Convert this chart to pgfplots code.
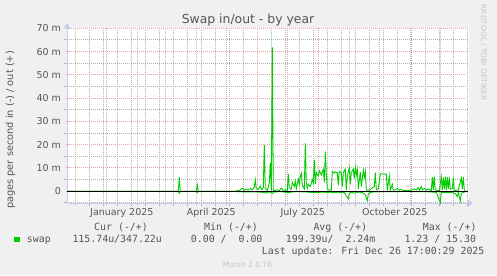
\documentclass[border=0pt]{standalone}
\usepackage{pgfplots}
\pgfplotsset{compat=1.18}
\usepackage{fontspec}
\setmainfont{DejaVu Sans}
\newfontfamily\mono{DejaVu Sans Mono}
\usetikzlibrary{arrows.meta}
\definecolor{bg}{HTML}{F0F0F0}
\definecolor{txtc}{HTML}{555555}
\definecolor{majgrid}{HTML}{E8A8A8}
\definecolor{mingrid}{HTML}{B2B2B2}
\definecolor{axisc}{HTML}{C8CCF0}
\definecolor{swapg}{HTML}{00CC00}
\definecolor{faint}{HTML}{C4C4C4}

\pgfplotstableread{
day val
-39.3 0
72 0
73 6.0
74 0
90 0
91 2.7
92 0
130 0
131 0.4
133 0.2
135 1.0
137 1.3
138 0.4
140 0.8
142 0.5
144 1.2
146 0.6
148 1.8
149 4.9
150 1.0
152 0.8
154 2.2
155 0.6
157 1.5
158 19.9
159 1.2
161 0.4
163 3.5
164 12.3
165 0.5
166 61.8
167 0.4
169 0.3
171 0.6
173 0.2
175 1.4
177 0.3
179 0.6
181 0.4
182 7.4
183 1.5
185 0.8
186 3.8
188 2.0
189 4.3
190 1.0
192 5.2
193 3.0
194 6.3
195 7.7
196 2.5
198 1.0
199 20.6
200 3.5
201 1.2
202 3.0
204 2.0
206 5.0
207 3.5
208 13.4
209 3.0
210 8.0
212 6.5
213 8.8
215 7.0
217 9.5
218 4.0
219 17.0
220 7.5
221 1.0
223 0.5
225 0.4
226 8.5
228 7.8
229 8.3
231 8.0
232 2.5
233 8.5
235 8.0
236 2.0
237 8.0
239 9.5
240 0.5
241 6.5
243 10.2
244 3.0
245 8.0
247 9.5
248 5.5
249 10.3
250 7.0
251 9.5
252 1.0
254 8.2
255 2.0
257 9.0
258 6.0
259 8.5
260 0.5
262 0.4
264 0.6
266 1.5
268 2.0
269 8.0
270 0.6
272 1.0
274 7.5
276 7.4
278 7.4
280 7.3
281 0.3
283 6.6
284 0.4
286 3.0
287 0.4
289 0.6
291 1.2
293 0.4
295 0.8
297 0.3
300 0.2
303 0.3
306 0.6
308 1.0
310 0.5
312 1.5
313 0.4
315 2.0
316 0.6
318 1.2
320 0.5
322 1.0
324 0.5
325 0.3
326 6.0
327 0.5
328 6.3
329 0.5
331 0.3
333 0.2
335 6.2
336 0.6
337 5.8
338 1.0
339 6.2
340 0.5
341 6.0
342 1.0
343 5.9
344 0.8
346 1.2
347 5.8
348 0.4
350 0.3
352 0.5
355 5.7
356 1.0
357 6.0
358 0.5
359 0.3
}\swapout

\pgfplotstableread{
day val
-39.3 0
72 0
73 -0.9
74 0
90 0
91 -0.7
92 0
130 0
131 -0.2
140 -0.3
150 -0.3
157 -0.5
160 -0.8
163 -0.2
166 -1.0
168 -0.3
175 -0.2
182 -0.6
186 -0.3
192 -0.2
198 -0.3
205 -0.5
212 -0.5
218 -0.4
222 -0.6
224 -0.3
226 -0.7
232 -0.4
236 -0.7
238 -0.5
242 -3.4
243 -1.0
245 -0.5
248 -0.8
252 -0.4
256 -0.6
259 -1.5
261 -4.0
262 -1.0
265 -0.4
270 -0.3
275 -0.2
280 -0.2
290 -0.2
300 -0.1
310 -0.2
320 -0.2
330 -0.5
334 -4.9
335 -0.5
345 -0.5
349 -1.0
351 -2.3
352 -0.5
354 -4.3
355 -1.0
357 -0.5
359 -0.3
}\swapin

\pgfplotsset{
  common/.style={
    at={(67bp,71.7bp)}, anchor=south west,
    scale only axis, width=401bp, height=175bp,
    xmin=-39.3, xmax=361.7, ymin=-5.2, ymax=70,
    tick align=outside, major tick length=3bp,
    xtick pos=bottom, ytick pos=left,
  }
}

\begin{document}
\begin{tikzpicture}[x=1bp,y=1bp]
\useasboundingbox (0,0) rectangle (497,275);
\fill[bg] (0,0) rectangle (497,275);
\fill[white] (67,71.7) rectangle (468,246.7);
% underlay: minor grid
\begin{axis}[common,
  hide axis=false,
  axis line style={draw=white, line width=0.1bp},
  grid=major,
  major grid style={color=mingrid, dash pattern=on 1bp off 1bp, line width=0.9bp},
  major tick style={color=mingrid, line width=0.9bp},
  xtick={-17,-3,11,25,39,53,67,81,95,109,123,137,151,165,179,193,207,221,235,249,263,277,291,305,319,333,347,361},
  ytick={-5,5,15,25,35,45,55,65},
  xticklabels={}, yticklabels={},
]
\end{axis}
% main axis
\begin{axis}[common,
  axis lines=left,
  axis line style={draw=axisc, line width=0.8bp, shorten >=-5bp, -{Triangle[length=5bp,width=7bp]}},
  grid=major,
  major grid style={color=majgrid, dash pattern=on 1bp off 1bp, line width=0.9bp},
  major tick style={color=majgrid, line width=0.9bp},
  xtick={-31,0,31,59,90,120,151,181,212,243,273,304,334},
  xticklabels={},
  extra x ticks={15.5,105,196.5,288.5},
  extra x tick labels={January 2025,April 2025,July 2025,October 2025},
  extra x tick style={grid=none, major tick length=0pt},
  ytick={0,10,20,30,40,50,60,70},
  yticklabels={0,10 m,20 m,30 m,40 m,50 m,60 m,70 m},
  tick label style={font=\fontsize{9.5bp}{11bp}\selectfont, text=txtc},
  xticklabel style={yshift=-1.5bp},
  yticklabel style={xshift=-1bp},
]
\addplot[swapg, line width=0.9bp] table[x=day,y=val] {\swapin};
\addplot[swapg, line width=0.9bp] table[x=day,y=val] {\swapout};
\addplot[black, line width=1.1bp] coordinates {(-39.3,0) (361.7,0)};
\end{axis}
\node[anchor=base, inner sep=0, font=\fontsize{12.4bp}{14bp}\selectfont, text=txtc] at (248,251.7) {Swap in/out - by year};
\node[rotate=90, anchor=center, inner sep=0, font=\fontsize{9.8bp}{11bp}\selectfont, text=txtc] at (10.5,145) {pages per second in (-) / out (+)};
\node[rotate=-90, anchor=center, inner sep=0, font=\fontsize{7.4bp}{9bp}\selectfont, text=faint] at (483.5,222.5) {RRDTOOL / TOBI OETIKER};
\begin{scope}[every node/.style={anchor=base west, inner sep=0, font=\mono\fontsize{9.9bp}{11bp}\selectfont, text=txtc}]
\node at (94,44.3) {Cur (-/+)};
\node at (204,44.3) {Min (-/+)};
\node at (313.3,44.3) {Avg (-/+)};
\node at (422.7,44.3) {Max (-/+)};
\node at (26.7,33) {swap};
\node at (72.3,33) {115.74u/347.22u};
\node at (190.7,33) {0.00 /~~0.00};
\node at (285.7,33) {199.39u/~~2.24m};
\node at (404.3,33) {1.23 / 15.30};
\node at (261.7,21) {Last update: Fri Dec 26 17:00:29 2025};
\end{scope}
\fill[swapg] (14,33) rectangle (19.5,38.5);
\node[anchor=base, inner sep=0, font=\fontsize{7.5bp}{9bp}\selectfont, text=faint] at (247.5,8) {Munin 2.0.76};
\end{tikzpicture}
\end{document}
